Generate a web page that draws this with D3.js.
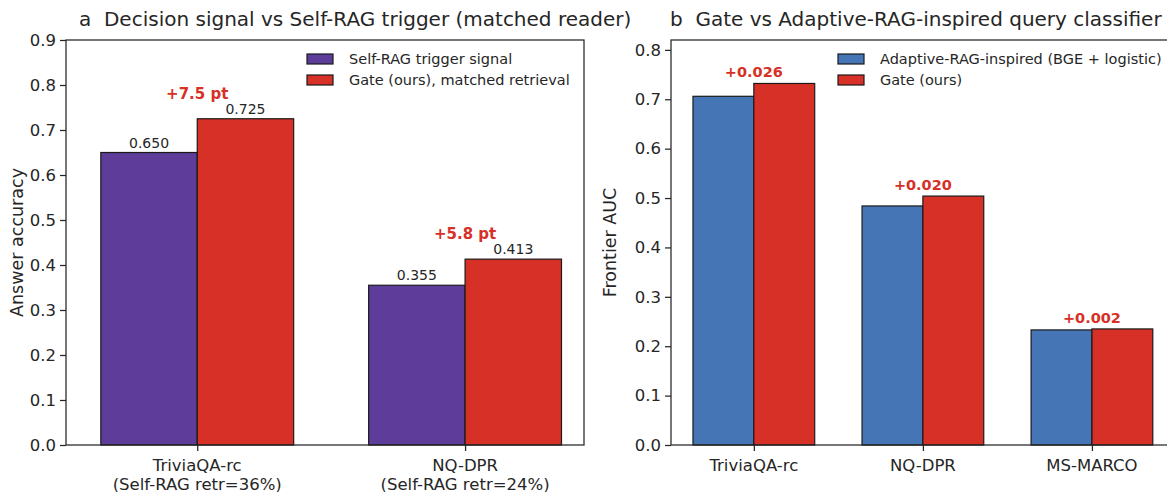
<!DOCTYPE html>
<html><head><meta charset="utf-8">
<script src="https://cdn.jsdelivr.net/npm/d3@7"></script>
<style>body{margin:0;background:#fff}svg{display:block}text{font-family:"DejaVu Sans",sans-serif;fill:#262626;white-space:pre}</style>
</head><body><svg id="c" width="1167" height="492"></svg>
<script>
// Panel a data
const aCategories = ["TriviaQA-rc\n(Self-RAG retr=36%)", "NQ-DPR\n(Self-RAG retr=24%)"];
const aSeriesNames = ["Self-RAG trigger signal", "Gate (ours), matched retrieval"];
const aSelfRagVals = [0.650, 0.355];
const aGate = [0.725, 0.413];
const aDiffLabels = ["+7.5 pt", "+5.8 pt"];
const aYTicks = [0, 0.1, 0.2, 0.3, 0.4, 0.5, 0.6, 0.7, 0.8, 0.9];
// Panel b data
const bCategories = ["TriviaQA-rc", "NQ-DPR", "MS-MARCO"];
const bSeriesNames = ["Adaptive-RAG-inspired (BGE + logistic)", "Gate (ours)"];
const bAdaptive = [0.706, 0.484, 0.233];
const bGate = [0.732, 0.504, 0.235];
const bDiffLabels = ["+0.026", "+0.020", "+0.002"];
const bYTicks = [0, 0.1, 0.2, 0.3, 0.4, 0.5, 0.6, 0.7, 0.8];

const colors = {purple:"#5e3c99", red:"#d73027", blue:"#4575b4"};
const svg = d3.select("#c");

function panel(opt){
  const g = svg.append("g");
  const {x0,x1,y0,y1} = opt;
  const n = opt.cats.length;
  const x = d3.scaleLinear().domain([-0.49, n - 1 + 0.444]).range([x0, opt.xEnd]);
  const y = d3.scaleLinear().domain(opt.ydom).range([y1, y0]);
  const bw = 0.36;
  opt.series.forEach((s, si) => {
    g.selectAll(null).data(s.vals).enter().append("rect")
      .attr("x", (d,i) => x(i + (si === 0 ? -bw : 0)))
      .attr("width", x(bw) - x(0))
      .attr("y", d => y(d))
      .attr("height", d => y(0) - y(d))
      .attr("fill", s.color).attr("stroke", "#1a1a1a").attr("stroke-width", 1.2);
  });
  g.append("rect").attr("x", x0).attr("y", y0).attr("width", x1 - x0).attr("height", y1 - y0)
    .attr("fill", "none").attr("stroke", "#262626").attr("stroke-width", 1.25);
  const ya = g.append("g").attr("transform", `translate(${x0},0)`)
    .call(d3.axisLeft(y).tickValues(opt.yticks).tickFormat(d3.format(".1f")).tickSize(6).tickPadding(4));
  ya.select(".domain").remove();
  ya.selectAll("line").attr("stroke", "#262626").attr("stroke-width", 1.25);
  ya.selectAll("text").style("font-size", "16.5px").attr("fill", "#262626").style("font-family", "DejaVu Sans");
  const xa = g.append("g").attr("transform", `translate(0,${y1})`)
    .call(d3.axisBottom(x).tickValues(d3.range(n)).tickFormat("").tickSize(6));
  xa.select(".domain").remove();
  xa.selectAll("line").attr("stroke", "#262626").attr("stroke-width", 1.25);
  opt.cats.forEach((c, i) => {
    const lines = c.split("\n");
    const t = g.append("text").attr("x", x(i)).attr("y", y1 + 26).attr("text-anchor", "middle").style("font-size", "16.5px");
    lines.forEach((l, li) => t.append("tspan").attr("x", x(i)).attr("dy", li === 0 ? 0 : 18.5).text(l));
  });
  g.append("text").attr("x", opt.titleX).attr("y", 26).style("font-size", "20px").text(opt.title);
  g.append("text").attr("transform", `translate(${opt.ylabX},${(y0 + y1) / 2}) rotate(-90)`)
    .attr("text-anchor", "middle").style("font-size", "17.5px").text(opt.ylabel);
  opt.series.forEach((s, si) => {
    const ly = 59 + si * 21;
    g.append("rect").attr("x", opt.legX).attr("y", ly - 5).attr("width", 26).attr("height", 10)
      .attr("fill", s.color).attr("stroke", "#1a1a1a").attr("stroke-width", 1.2);
    g.append("text").attr("x", opt.legX + 42).attr("y", ly + 5).style("font-size", "14.5px").text(s.name);
  });
  return {g, x, y, bw};
}

const A = panel({x0:66, x1:584, xEnd:584, y0:40, y1:445, ydom:[0,0.9], yticks:aYTicks, cats:aCategories,
  series:[{name:aSeriesNames[0], vals:aSelfRagVals, color:colors.purple},{name:aSeriesNames[1], vals:aGate, color:colors.red}],
  title:"a  Decision signal vs Self-RAG trigger (matched reader)", titleX:79, ylabel:"Answer accuracy", ylabX:23, legX:307});
aSelfRagVals.forEach((v,i) => {
  A.g.append("text").attr("x", A.x(i - A.bw/2)).attr("y", A.y(v) - 5).attr("text-anchor","middle").style("font-size","14px").text(v.toFixed(3));
  A.g.append("text").attr("x", A.x(i + A.bw/2)).attr("y", A.y(aGate[i]) - 5).attr("text-anchor","middle").style("font-size","14px").text(aGate[i].toFixed(3));
  A.g.append("text").attr("x", A.x(i)).attr("y", A.y(aGate[i] + 0.04) - 2).attr("text-anchor","middle")
    .style("font-size","15px").style("font-weight","bold").style("fill", colors.red).text(aDiffLabels[i]);
});

const B = panel({x0:671, x1:1170, xEnd:1167, y0:40, y1:445, ydom:[0,0.82], yticks:bYTicks, cats:bCategories,
  series:[{name:bSeriesNames[0], vals:bAdaptive, color:colors.blue},{name:bSeriesNames[1], vals:bGate, color:colors.red}],
  title:"b  Gate vs Adaptive-RAG-inspired query classifier", titleX:670, ylabel:"Frontier AUC", ylabX:616, legX:838});
bGate.forEach((v,i) => {
  B.g.append("text").attr("x", B.x(i)).attr("y", B.y(v) - 6).attr("text-anchor","middle")
    .style("font-size","14.5px").style("font-weight","bold").style("fill", colors.red).text(bDiffLabels[i]);
});
</script></body></html>
